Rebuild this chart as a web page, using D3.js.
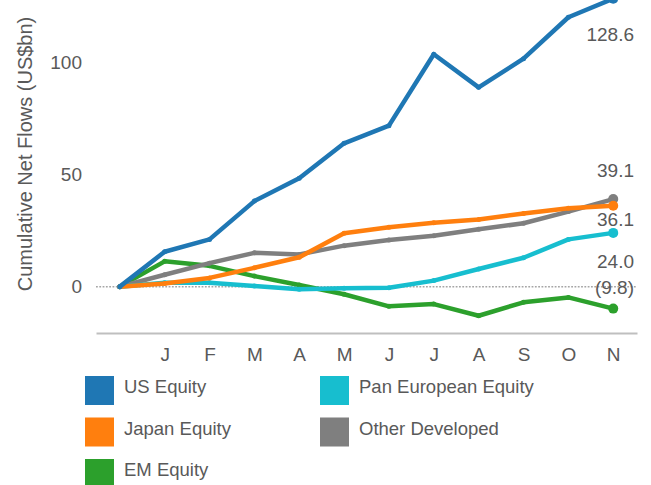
<!DOCTYPE html>
<html lang="en">
<head>
  <meta charset="UTF-8" />
  <title>Cumulative Net Flows</title>
  <script src="https://d3js.org/d3.v7.min.js"></script>
  <style>
    body { margin: 0; background: #fff; }
    svg { display: block; }
    text {
      font-family: "Liberation Sans", Arial, sans-serif;
      fill: #595959;
    }
  </style>
</head>
<body>
  <svg width="651" height="485"></svg>

  <script>
    // month labels (first point is the starting zero, unlabelled)
    const months = ["", "J", "F", "M", "A", "M", "J", "J", "A", "S", "O", "N"];

    const usEquity = [0, 15.6, 21.1, 38.2, 48.4, 64.0, 71.9, 103.8, 89.0, 101.8, 120.3, 128.6];
    const japanEquity = [0, 1.4, 3.9, 8.4, 13.1, 23.8, 26.5, 28.5, 30.0, 32.7, 35.0, 36.1];
    const emEquity = [0, 11.3, 9.3, 4.7, 0.7, -3.4, -8.8, -7.8, -13.0, -7.0, -4.8, -9.8];
    const panEuropeanEquity = [0, 1.7, 1.7, 0.3, -1.2, -0.7, -0.5, 2.7, 7.9, 12.9, 21.1, 24.0];
    const otherDeveloped = [0, 5.3, 10.5, 15.1, 14.4, 18.3, 20.8, 22.7, 25.6, 28.3, 33.5, 39.1];

    const yTicks = [0, 50, 100];

    // legend order (row by row, two columns)
    const series = [
      { name: "US Equity", values: usEquity, color: "#1f77b4", labelDy: 36 },
      { name: "Pan European Equity", values: panEuropeanEquity, color: "#17becf", labelDy: 28 },
      { name: "Japan Equity", values: japanEquity, color: "#ff7f0e", labelDy: 14 },
      { name: "Other Developed", values: otherDeveloped, color: "#7f7f7f", labelDy: -29 },
      { name: "EM Equity", values: emEquity, color: "#2ca02c", labelDy: -21 }
    ];
    // drawing order, bottom to top
    const drawOrder = ["EM Equity", "Other Developed", "Pan European Equity", "Japan Equity", "US Equity"];

    const svg = d3.select("svg");

    const x = d3.scaleLinear().domain([-0.53, 11.53]).range([96, 637]);
    const y = d3.scaleLinear().domain([-20.7, 128]).range([333, 0]);

    // y axis title
    svg.append("text")
      .attr("transform", "translate(25,154) rotate(-90)")
      .attr("text-anchor", "middle")
      .attr("dy", "0.35em")
      .style("font-size", "20px")
      .text("Cumulative Net Flows (US$bn)");

    // y tick labels
    const yAxis = svg.append("g")
      .attr("transform", "translate(82,0)")
      .call(d3.axisLeft(y).tickValues(yTicks).tickSize(0).tickPadding(0));
    yAxis.select(".domain").remove();
    yAxis.selectAll("text")
      .style("font-size", "19px")
      .style("font-family", "'Liberation Sans', Arial, sans-serif")
      .attr("fill", "#595959");

    // zero reference line
    svg.append("line")
      .attr("x1", 96).attr("x2", 637)
      .attr("y1", y(0)).attr("y2", y(0))
      .attr("stroke", "#a6a6a6")
      .attr("stroke-width", 1.5)
      .attr("stroke-dasharray", "1.8,1.5");

    // x axis
    const xAxis = svg.append("g")
      .attr("transform", "translate(0,333)")
      .call(d3.axisBottom(x)
        .tickValues(d3.range(1, months.length))
        .tickFormat(i => months[i])
        .tickSize(0)
        .tickPadding(15));
    xAxis.select(".domain")
      .attr("stroke", "#bfbfbf")
      .attr("stroke-width", 2);
    xAxis.selectAll("text")
      .style("font-size", "19px")
      .style("font-family", "'Liberation Sans', Arial, sans-serif")
      .attr("fill", "#595959");

    const line = d3.line()
      .x((d, i) => x(i))
      .y(d => y(d));

    const ordered = drawOrder.map(n => series.find(s => s.name === n));

    const groups = svg.selectAll(".series")
      .data(ordered)
      .enter()
      .append("g")
      .attr("class", "series");

    groups.append("path")
      .attr("d", d => line(d.values))
      .attr("fill", "none")
      .attr("stroke", d => d.color)
      .attr("stroke-width", 4.5)
      .attr("stroke-linejoin", "round");

    groups.selectAll(".pt")
      .data(d => d.values.map((v, i) => ({ v, i, color: d.color })))
      .enter()
      .append("circle")
      .attr("class", "pt")
      .attr("cx", d => x(d.i))
      .attr("cy", d => y(d.v))
      .attr("r", d => d.i === months.length - 1 ? 5 : 2.5)
      .attr("fill", d => d.color);

    // end labels
    const fmt = d3.format(".1f");
    svg.selectAll(".end-label")
      .data(series)
      .enter()
      .append("text")
      .attr("class", "end-label")
      .attr("x", 634)
      .attr("y", d => y(d.values[d.values.length - 1]) + d.labelDy)
      .attr("dy", "0.35em")
      .attr("text-anchor", "end")
      .style("font-size", "19px")
      .text(d => {
        const v = d.values[d.values.length - 1];
        return v < 0 ? "(" + fmt(-v) + ")" : fmt(v);
      });

    // legend
    const legend = svg.selectAll(".legend")
      .data(series)
      .enter()
      .append("g")
      .attr("class", "legend")
      .attr("transform", (d, i) => `translate(${i % 2 === 0 ? 85 : 320},${376 + Math.floor(i / 2) * 41.5})`);

    legend.append("rect")
      .attr("width", 29)
      .attr("height", 29)
      .attr("fill", d => d.color);

    legend.append("text")
      .attr("x", 39)
      .attr("y", 11)
      .attr("dy", "0.35em")
      .style("font-size", "18.5px")
      .text(d => d.name);
  </script>
</body>
</html>
